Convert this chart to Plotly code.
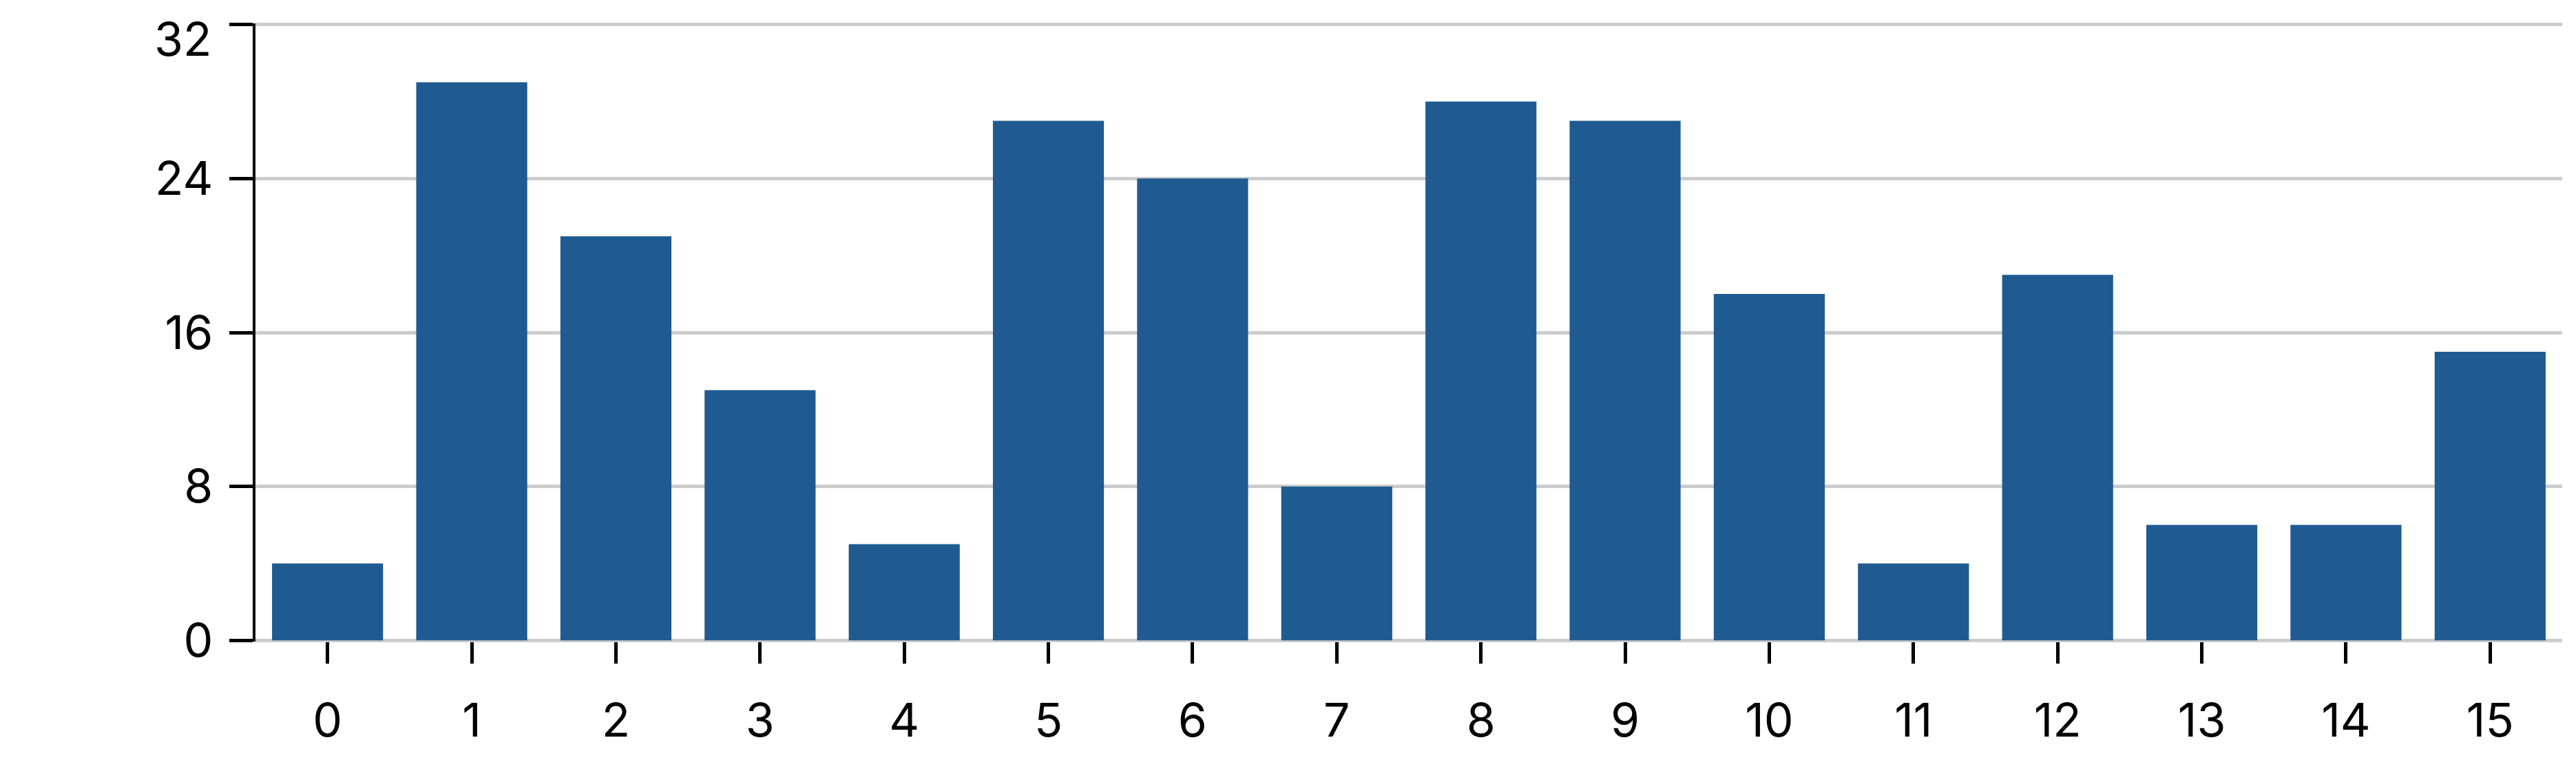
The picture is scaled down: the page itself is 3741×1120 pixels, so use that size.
import plotly.graph_objects as go

# bar chart, 16 categories
categories = [str(i) for i in range(16)]
values = [4, 29, 21, 13, 5, 27, 24, 8, 28, 27, 18, 4, 19, 6, 6, 15]
y_ticks = [0, 8, 16, 24, 32]

fig = go.Figure(
    go.Bar(
        x=categories,
        y=values,
        marker=dict(color="#1f5b91", line=dict(width=0)),
    )
)

fig.update_layout(
    width=3741,
    height=1120,
    margin=dict(l=363, r=28, t=26, b=196),
    plot_bgcolor="white",
    paper_bgcolor="white",
    bargap=0.23,
    showlegend=False,
    font=dict(family="Inter", size=68, color="black"),
)

fig.update_xaxes(
    type="category",
    range=[-0.5, 15.5],
    showgrid=False,
    showline=False,
    zeroline=False,
    ticks="outside",
    ticklen=31,
    tickwidth=5,
    tickcolor="black",
    ticklabelstandoff=24,
)

# top label is hidden here and drawn below so it stays inside the page
fig.update_yaxes(
    range=[-0.06, 32.06],
    tickvals=y_ticks,
    ticktext=[str(v) for v in y_ticks[:-1]] + [""],
    showgrid=True,
    gridcolor="#cccccc",
    gridwidth=5,
    zeroline=False,
    showline=True,
    linecolor="black",
    linewidth=4,
    ticks="outside",
    ticklen=34,
    tickwidth=5,
    tickcolor="black",
    ticklabelstandoff=10,
)

fig.add_annotation(
    x=0, xref="paper", y=y_ticks[-1], yref="y",
    text=str(y_ticks[-1]),
    showarrow=False,
    xanchor="right", yanchor="middle",
    xshift=-62, yshift=-20,
    font=dict(family="Inter", size=68, color="black"),
)

fig.write_html("out.html")
